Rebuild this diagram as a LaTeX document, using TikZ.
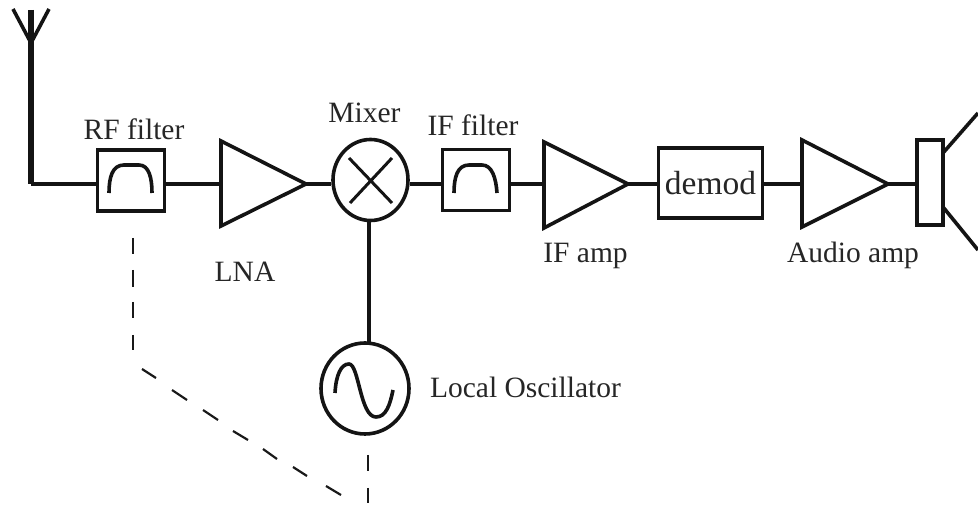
\documentclass[tikz,border=0pt]{standalone}
\usepackage{fontspec}
\usetikzlibrary{shapes.geometric}
\setmainfont{Liberation Serif}
\tikzset{
  wire/.style={line width=3.6pt,draw=black!92},
  thickwire/.style={line width=5.5pt,draw=black!92},
  dashwire/.style={line width=2.2pt,draw=black!90},
  shapeline/.style={line width=3.6pt,draw=black!92,line join=miter},
  thinline/.style={line width=3pt,draw=black!92},
  lbl/.style={font=\fontsize{29.5}{32}\selectfont,text=black!85,inner sep=0pt,anchor=base}
}
\begin{document}
\begin{tikzpicture}[x=1pt,y=-1pt]
\useasboundingbox (0,0) rectangle (978,510);
% named anchors
\coordinate (antTop) at (31,10);
\coordinate (antL) at (13,9);
\coordinate (antR) at (49,9);
\coordinate (antFoot) at (31,43);
\coordinate (corner) at (31,184);
\coordinate (coneA) at (943,153);
\coordinate (coneB) at (978,113);
\coordinate (coneC) at (943,207);
\coordinate (coneD) at (978,250);

% blocks
\node[shapeline,rectangle,inner sep=0pt,minimum width=67pt,minimum height=61pt] (rf) at (131,180.5) {};
\node[shapeline,rectangle,inner sep=0pt,minimum width=67pt,minimum height=61pt] (iff) at (476,180) {};
\node[shapeline,rectangle,inner sep=0pt,minimum width=104pt,minimum height=70pt,font=\fontsize{33.5}{36}\selectfont,text=black!85] (demod) at (710.5,183) {demod};
\node[shapeline,rectangle,inner sep=0pt,minimum width=26pt,minimum height=85pt] (spk) at (930,182.5) {};
\node[shapeline,ellipse,inner sep=0pt,minimum width=75pt,minimum height=81pt] (mix) at (370.5,180) {};
\node[shapeline,ellipse,inner sep=0pt,minimum width=88pt,minimum height=91pt] (osc) at (365,388.5) {};

% amplifiers
\coordinate (a1t) at (221,141); \coordinate (a1b) at (221,226); \coordinate (a1o) at (306,184);
\coordinate (a2t) at (544,142); \coordinate (a2b) at (544,228); \coordinate (a2o) at (628,184);
\coordinate (a3t) at (802,140); \coordinate (a3b) at (802,227); \coordinate (a3o) at (888,184);
\draw[shapeline] (a1t) -- (a1b) -- (a1o) -- cycle;
\draw[shapeline] (a2t) -- (a2b) -- (a2o) -- cycle;
\draw[shapeline] (a3t) -- (a3b) -- (a3o) -- cycle;

% antenna
\draw[thickwire] (antTop) -- (corner);
\draw[wire] (antL) -- (antFoot) -- (antR);

% connectors on the signal path
\draw[wire] (corner) -- (corner -| rf.west);
\draw[wire] (rf.east |- a1o) -- (a1t |- a1o);
\draw[wire] (a1o) -- (mix.west |- a1o);
\draw[wire] (mix.east |- a1o) -- (iff.west |- a1o);
\draw[wire] (iff.east |- a1o) -- (a2t |- a1o);
\draw[wire] (a2o) -- (demod.west |- a2o);
\draw[wire] (demod.east |- a2o) -- (a3t |- a2o);
\draw[wire] (a3o) -- (spk.west |- a3o);
\draw[wire] (mix.south -| osc.north) ++(4,0) -- (369,343);

% speaker cone
\draw[shapeline] (coneA) -- (coneB);
\draw[shapeline] (coneC) -- (coneD);

% mixer cross
\draw[thinline] (349,158) -- (392,203);
\draw[thinline] (392,158) -- (350,203);

% filter symbols
\draw[shapeline] (109,193) .. controls (109,178) and (112,165) .. (124,165) -- (139,165) .. controls (149,165) and (152,178) .. (152,193);
\draw[shapeline] (454,193) .. controls (454,178) and (457,165) .. (469,165) -- (482,165) .. controls (492,165) and (496,178) .. (497,193);

% sine
\draw[shapeline] (335,393) .. controls (336,375) and (341,364) .. (349,364) .. controls (359,364) and (360,417) .. (376,417) .. controls (386,417) and (390,405) .. (393,390);

% ganged control, dashed
\draw[dashwire] (133,238) -- (133,254);
\draw[dashwire] (133,270) -- (133,287);
\draw[dashwire] (133,302) -- (133,318);
\draw[dashwire] (133,335) -- (133,350);
\draw[dashwire] (142,369) -- (156,378);
\draw[dashwire] (172,390) -- (187,400);
\draw[dashwire] (203,410) -- (218,420);
\draw[dashwire] (233,431) -- (248,440);
\draw[dashwire] (263,449) -- (277,459);
\draw[dashwire] (293,467) -- (307,476);
\draw[dashwire] (326,486) -- (341,495);
\draw[dashwire] (368,455) -- (368,471);
\draw[dashwire] (368,488) -- (368,503);

% labels
\node[lbl] (lrf) at (134,140) {RF filter};
\node[lbl] (lmix) at (364.5,123) {Mixer};
\node[lbl] (lif) at (473,136) {IF filter};
\node[lbl] (llna) at (245,282) {LNA};
\node[lbl] (lifa) at (585.5,263) {IF amp};
\node[lbl] (laud) at (853,263) {Audio amp};
\node[lbl] (llo) at (525.5,398) {Local Oscillator};
\end{tikzpicture}
\end{document}
